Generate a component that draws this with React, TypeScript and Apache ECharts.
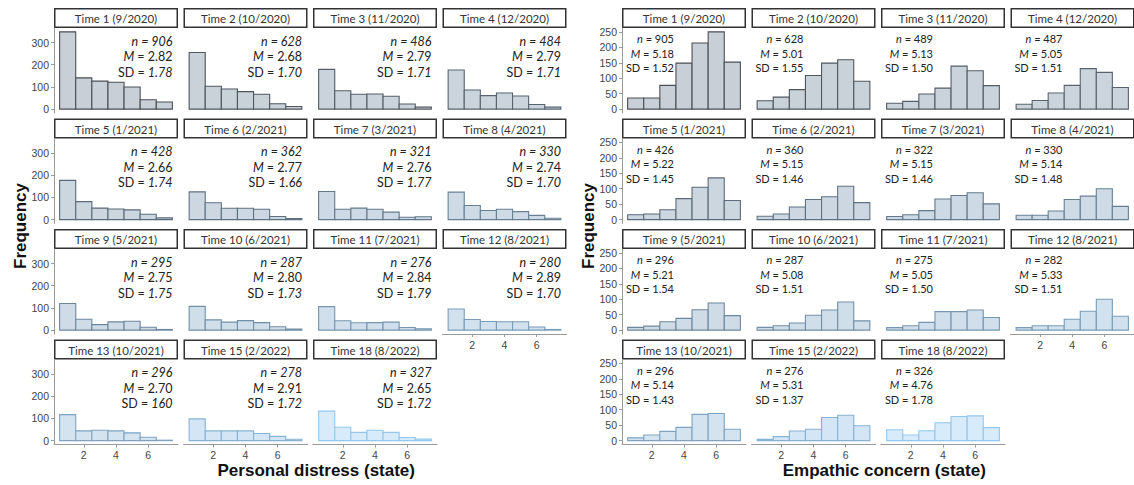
import React, { useEffect, useRef } from 'react';
import * as echarts from 'echarts';

// Facet labels (wave and month of data collection)
const timeLabels = [
  'Time 1 (9/2020)', 'Time 2 (10/2020)', 'Time 3 (11/2020)', 'Time 4 (12/2020)',
  'Time 5 (1/2021)', 'Time 6 (2/2021)', 'Time 7 (3/2021)', 'Time 8 (4/2021)',
  'Time 9 (5/2021)', 'Time 10 (6/2021)', 'Time 11 (7/2021)', 'Time 12 (8/2021)',
  'Time 13 (10/2021)', 'Time 15 (2/2022)', 'Time 18 (8/2022)',
];
const timeNumbers = [1, 2, 3, 4, 5, 6, 7, 8, 9, 10, 11, 12, 13, 15, 18];

// Histogram bins (scale points 1..7) and x tick labels
const scoreBins = [1, 2, 3, 4, 5, 6, 7];
const scoreTicks = [2, 4, 6];

// Personal distress (state): frequency per bin for each wave
const distressCounts = [
  [348, 141, 126, 121, 100, 42, 32],
  [255, 103, 91, 79, 67, 24, 12],
  [179, 83, 67, 68, 58, 23, 9],
  [176, 86, 61, 73, 59, 21, 9],
  [177, 81, 52, 48, 44, 24, 8],
  [125, 76, 51, 51, 47, 14, 5],
  [127, 47, 52, 47, 34, 11, 13],
  [124, 64, 41, 47, 36, 19, 6],
  [120, 49, 25, 37, 40, 13, 3],
  [107, 46, 36, 43, 34, 15, 5],
  [106, 42, 33, 34, 36, 12, 6],
  [95, 48, 39, 38, 38, 14, 3],
  [117, 44, 47, 44, 35, 15, 2],
  [98, 44, 44, 44, 32, 19, 6],
  [133, 60, 37, 47, 37, 14, 7],
];
const distressN = ['906', '628', '486', '484', '428', '362', '321', '330', '295', '287', '276', '280', '296', '278', '327'];
const distressM = ['2.82', '2.68', '2.79', '2.79', '2.66', '2.77', '2.76', '2.74', '2.75', '2.80', '2.84', '2.89', '2.70', '2.91', '2.65'];
const distressSD = ['1.78', '1.70', '1.71', '1.71', '1.74', '1.66', '1.77', '1.70', '1.75', '1.73', '1.79', '1.70', '160', '1.72', '1.72'];
const distressYTicks = [0, 100, 200, 300];

// Empathic concern (state): frequency per bin for each wave
const concernCounts = [
  [36, 36, 77, 149, 214, 250, 152],
  [27, 39, 63, 109, 149, 160, 90],
  [19, 25, 49, 68, 139, 124, 76],
  [16, 28, 52, 77, 131, 119, 70],
  [16, 18, 32, 68, 105, 135, 62],
  [11, 18, 41, 65, 74, 108, 55],
  [10, 16, 29, 67, 78, 87, 51],
  [14, 14, 28, 65, 76, 100, 43],
  [9, 13, 27, 38, 66, 88, 47],
  [9, 14, 23, 48, 65, 91, 30],
  [8, 14, 25, 60, 60, 65, 41],
  [8, 14, 14, 35, 61, 100, 45],
  [9, 18, 30, 43, 85, 88, 37],
  [4, 13, 31, 37, 75, 82, 48],
  [35, 18, 32, 58, 78, 80, 42],
];
const concernN = ['905', '628', '489', '487', '426', '360', '322', '330', '296', '287', '275', '282', '296', '276', '326'];
const concernM = ['5.18', '5.01', '5.13', '5.05', '5.22', '5.15', '5.15', '5.14', '5.21', '5.08', '5.05', '5.33', '5.14', '5.31', '4.76'];
const concernSD = ['1.52', '1.55', '1.50', '1.51', '1.45', '1.46', '1.46', '1.48', '1.54', '1.51', '1.50', '1.51', '1.43', '1.37', '1.78'];
const concernYTicks = [0, 50, 100, 150, 200, 250];

// Layout
const WIDTH = 1134;
const HEIGHT = 485;
const COL_STEP = 129.5;
const CELL_W = 124;
const STRIP_H = 20;
const PLOT_H = 85;
const ROW_TOPS = [8, 118.5, 229, 339.5];
const X_MIN = 0.15;
const X_MAX = 7.85;

const FILL_FROM = '#c8cfd7';
const FILL_TO = '#d7ebfb';
const STROKE_FROM = '#4a4f55';
const STROKE_TO = '#93c7ef';
const AXIS_GREY = '#9a9a9a';
const LABEL_GREY = '#444444';
const TEXT_FONT = 'Lato, "Open Sans", sans-serif';
const TITLE_FONT = '"Liberation Sans", Arial, sans-serif';

function hexToRgb(h: string): number[] {
  const v = parseInt(h.slice(1), 16);
  return [(v >> 16) & 255, (v >> 8) & 255, v & 255];
}
function mix(a: string, b: string, t: number): string {
  const ca = hexToRgb(a);
  const cb = hexToRgb(b);
  const c = ca.map((x, i) => Math.round(x + (cb[i] - x) * t));
  return `rgb(${c[0]},${c[1]},${c[2]})`;
}

type PanelSpec = {
  originX: number;
  counts: number[][];
  ns: string[];
  ms: string[];
  sds: string[];
  yTicks: number[];
  kind: 'distress' | 'concern';
  xTitle: string;
};

function buildOption() {
  const grid: any[] = [];
  const xAxis: any[] = [];
  const yAxis: any[] = [];
  const series: any[] = [];
  const graphic: any[] = [];

  const panels: PanelSpec[] = [
    { originX: 54, counts: distressCounts, ns: distressN, ms: distressM, sds: distressSD, yTicks: distressYTicks, kind: 'distress', xTitle: 'Personal distress (state)' },
    { originX: 622, counts: concernCounts, ns: concernN, ms: concernM, sds: concernSD, yTicks: concernYTicks, kind: 'concern', xTitle: 'Empathic concern (state)' },
  ];

  const minT = timeNumbers[0];
  const maxT = timeNumbers[timeNumbers.length - 1];

  panels.forEach((p) => {
    const yMax = Math.max(...p.counts.map((c) => Math.max(...c)));
    p.counts.forEach((counts, i) => {
      const row = Math.floor(i / 4);
      const col = i % 4;
      const left = p.originX + col * COL_STEP;
      const stripTop = ROW_TOPS[row];
      const plotTop = stripTop + STRIP_H;
      const isBottom = row === 3 || (col === 3 && row === 2);
      const isLeft = col === 0;
      const idx = grid.length;
      const t = (timeNumbers[i] - minT) / (maxT - minT);
      const fill = mix(FILL_FROM, FILL_TO, t);
      const stroke = mix(STROKE_FROM, STROKE_TO, t);

      grid.push({ left, top: plotTop, width: CELL_W, height: PLOT_H });
      xAxis.push({
        type: 'value',
        gridIndex: idx,
        min: X_MIN,
        max: X_MAX,
        axisLine: { show: isBottom, onZero: false, lineStyle: { color: AXIS_GREY, width: 1 } },
        axisTick: { show: isBottom, length: 3, customValues: scoreTicks, lineStyle: { color: AXIS_GREY } },
        axisLabel: { show: isBottom, customValues: scoreTicks, color: LABEL_GREY, fontSize: 10.5, margin: 5, fontFamily: TITLE_FONT },
        splitLine: { show: false },
      });
      yAxis.push({
        type: 'value',
        gridIndex: idx,
        min: -0.05 * yMax,
        max: 1.05 * yMax,
        axisLine: { show: isLeft, onZero: false, lineStyle: { color: AXIS_GREY, width: 1 } },
        axisTick: { show: isLeft, length: 3, customValues: p.yTicks, lineStyle: { color: AXIS_GREY } },
        axisLabel: { show: isLeft, customValues: p.yTicks, color: LABEL_GREY, fontSize: 10.5, margin: 5, fontFamily: TITLE_FONT },
        splitLine: { show: false },
      });
      series.push({
        type: 'custom',
        xAxisIndex: idx,
        yAxisIndex: idx,
        data: counts.map((v, k) => [scoreBins[k], v]),
        encode: { x: 0, y: 1 },
        renderItem: (_params: any, api: any) => {
          const x = api.value(0) as number;
          const y = api.value(1) as number;
          const tl = api.coord([x - 0.5, y]);
          const br = api.coord([x + 0.5, 0]);
          return {
            type: 'rect',
            shape: { x: tl[0], y: tl[1], width: br[0] - tl[0], height: br[1] - tl[1] },
            style: { fill, stroke, lineWidth: 1.1 },
          };
        },
      });

      // Facet strip
      graphic.push({
        type: 'rect',
        shape: { x: left + 0.75, y: stripTop + 0.75, width: CELL_W - 1.5, height: STRIP_H - 1.5 },
        style: { fill: '#ffffff', stroke: '#333333', lineWidth: 1.5 },
      });
      graphic.push({
        type: 'text',
        x: left + CELL_W / 2,
        y: stripTop + STRIP_H / 2 + 0.5,
        style: {
          text: timeLabels[i],
          align: 'center',
          verticalAlign: 'middle',
          fontFamily: TEXT_FONT,
          fontSize: 11.5,
          fill: '#333333',
        },
      });

      // Summary statistics
      if (p.kind === 'distress') {
        const base = { fontFamily: TEXT_FONT, fontSize: 12.5, fill: '#222222', lineHeight: 15.5 };
        graphic.push({
          type: 'text',
          x: left + CELL_W - 5.5,
          y: plotTop + 5.25,
          style: {
            text: `{it|n = ${p.ns[i]}}\n{it|M}{up| = ${p.ms[i]}}\n{up|SD = }{it|${p.sds[i]}}`,
            align: 'right',
            verticalAlign: 'top',
            rich: {
              it: { ...base, fontStyle: 'italic' },
              up: { ...base },
            },
          },
        });
      } else {
        const base = { fontFamily: TEXT_FONT, fontSize: 11, fill: '#222222', lineHeight: 14.5 };
        graphic.push({
          type: 'text',
          x: left + 52,
          y: plotTop + 3.25,
          style: {
            text: `{it|n}{up| = ${p.ns[i]}}\n{it|M}{up| = ${p.ms[i]}}\n{up|SD = ${p.sds[i]}}`,
            align: 'right',
            verticalAlign: 'top',
            rich: {
              it: { ...base, fontStyle: 'italic' },
              up: { ...base },
            },
          },
        });
      }
    });

    // Axis titles
    graphic.push({
      type: 'text',
      x: p.originX - 34,
      y: 226,
      rotation: Math.PI / 2,
      style: {
        text: 'Frequency',
        align: 'center',
        verticalAlign: 'middle',
        fontFamily: TITLE_FONT,
        fontWeight: 'bold',
        fontSize: 17,
        fill: '#111111',
      },
    });
    graphic.push({
      type: 'text',
      x: p.originX + (3 * COL_STEP + CELL_W) / 2 + 6,
      y: 470,
      style: {
        text: p.xTitle,
        align: 'center',
        verticalAlign: 'middle',
        fontFamily: TITLE_FONT,
        fontWeight: 'bold',
        fontSize: 17,
        fill: '#111111',
      },
    });
  });

  return {
    animation: false,
    backgroundColor: '#ffffff',
    grid,
    xAxis,
    yAxis,
    series,
    graphic,
  };
}

export default function App() {
  const ref = useRef<HTMLDivElement>(null);
  useEffect(() => {
    if (!ref.current) return;
    const chart = echarts.init(ref.current, undefined, { renderer: 'svg' });
    chart.setOption(buildOption() as any);
    return () => chart.dispose();
  }, []);
  return (
    <div
      ref={ref}
      style={{ position: 'absolute', left: 0, top: 0, width: WIDTH, height: HEIGHT, background: '#ffffff' }}
    />
  );
}
